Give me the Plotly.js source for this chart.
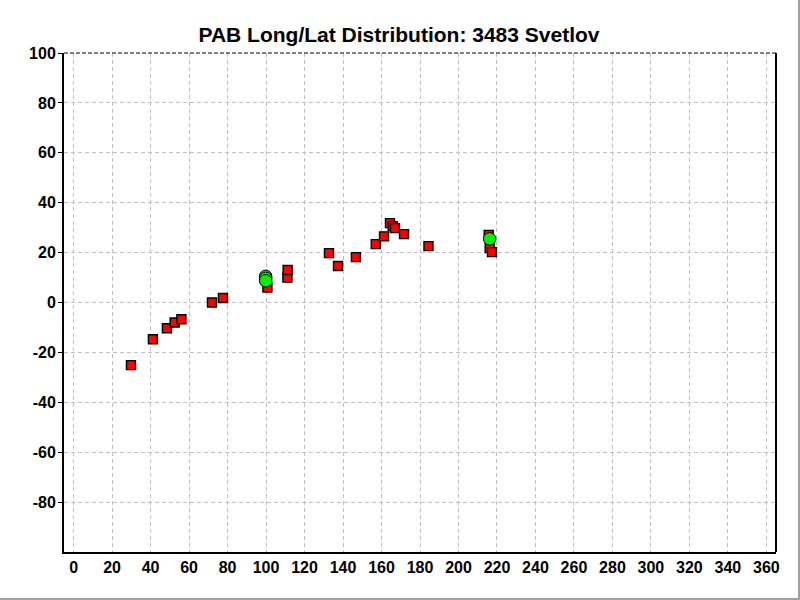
<!DOCTYPE html>
<html>
<head>
<meta charset="utf-8">
<script src="https://cdn.plot.ly/plotly-3.0.1.min.js"></script>
<style>
    html, body { margin: 0; padding: 0; background: #ffffff; }
    #chart {
        width: 798px;
        height: 598px;
        border-right: 2px solid #a0a0a0;
        border-bottom: 2px solid #a0a0a0;
    }
</style>
</head>
<body>
<div id="chart"></div>
<script>
// 觀測點（紅色方塊）
const obsLong = [29.8, 41.2, 48.5, 52.5, 56.0, 71.9, 77.6, 100.7, 111.1, 111.2,
                 132.7, 137.4, 146.7, 157.0, 161.3, 164.4, 165.8, 167.0, 171.7, 184.4,
                 215.7, 216.2, 217.4];
const obsLat = [-25.1, -14.7, -10.3, -8.0, -6.7, 0.0, 1.8, 6.0, 10.0, 13.0,
                19.8, 14.6, 18.2, 23.4, 26.5, 31.8, 30.6, 29.8, 27.4, 22.6,
                27.1, 21.8, 20.2];

// 解點（綠色圓點）
const solLong = [99.8, 99.8, 99.8, 216.2];
const solLat = [10.5, 9.7, 8.7, 25.5];

const xTicks = [0, 20, 40, 60, 80, 100, 120, 140, 160, 180, 200, 220, 240, 260, 280, 300, 320, 340, 360];
const yTicks = [-80, -60, -40, -20, 0, 20, 40, 60, 80, 100];

const obsTrace = {
    x: obsLong,
    y: obsLat,
    type: 'scatter',
    mode: 'markers',
    marker: {
        symbol: 'square',
        size: 9,
        color: '#ff0000',
        line: { color: '#000000', width: 1.4 }
    },
    hoverinfo: 'x+y'
};

const solTrace = {
    x: solLong,
    y: solLat,
    type: 'scatter',
    mode: 'markers',
    marker: {
        symbol: 'circle',
        size: 12.5,
        color: '#00ee00',
        line: { color: '#000000', width: 1 }
    },
    hoverinfo: 'x+y'
};

const tickFont = { family: 'Liberation Sans, Arial, sans-serif', size: 16, color: '#000000' };
const bold = v => '<b>' + v + '</b>';

const layout = {
    width: 798,
    height: 598,
    showlegend: false,
    paper_bgcolor: '#ffffff',
    plot_bgcolor: '#ffffff',
    margin: { l: 64, r: 22, t: 53, b: 46 },
    font: { family: 'Liberation Sans, Arial, sans-serif', color: '#000000' },
    title: {
        text: '<b>PAB Long/Lat Distribution: 3483 Svetlov</b>',
        font: { family: 'Liberation Sans, Arial, sans-serif', size: 21, color: '#000000' },
        x: 0.5,
        xanchor: 'center',
        y: 1 - 35 / 598,
        yanchor: 'middle'
    },
    xaxis: {
        range: [-5, 365],
        tickvals: xTicks,
        ticktext: xTicks.map(bold),
        tickfont: tickFont,
        ticks: '',
        showgrid: true,
        gridcolor: '#c0c0c0',
        gridwidth: 1,
        griddash: '4px,3px',
        zeroline: false,
        showline: true,
        linecolor: '#000000',
        linewidth: 2,
        mirror: false,
        fixedrange: true
    },
    yaxis: {
        range: [-100, 100],
        tickvals: yTicks,
        ticktext: yTicks.map(bold),
        tickfont: tickFont,
        ticks: 'outside',
        ticklen: 4,
        tickcolor: '#000000',
        ticklabelstandoff: -1,
        showgrid: true,
        gridcolor: '#c0c0c0',
        gridwidth: 1,
        griddash: '4px,3px',
        zeroline: false,
        showline: true,
        linecolor: '#000000',
        linewidth: 2,
        mirror: false,
        fixedrange: true
    },
    shapes: [
        // 上框線（虛線）
        {
            type: 'line', xref: 'paper', yref: 'paper',
            x0: 0, x1: 1, y0: 1, y1: 1,
            line: { color: '#000000', width: 1, dash: '4px,2px' }
        },
        // 右框線
        {
            type: 'line', xref: 'paper', yref: 'paper',
            x0: 1, x1: 1, y0: 0, y1: 1,
            line: { color: '#000000', width: 2 }
        }
    ]
};

Plotly.newPlot('chart', [obsTrace, solTrace], layout, { displayModeBar: false, responsive: false });
</script>
</body>
</html>
